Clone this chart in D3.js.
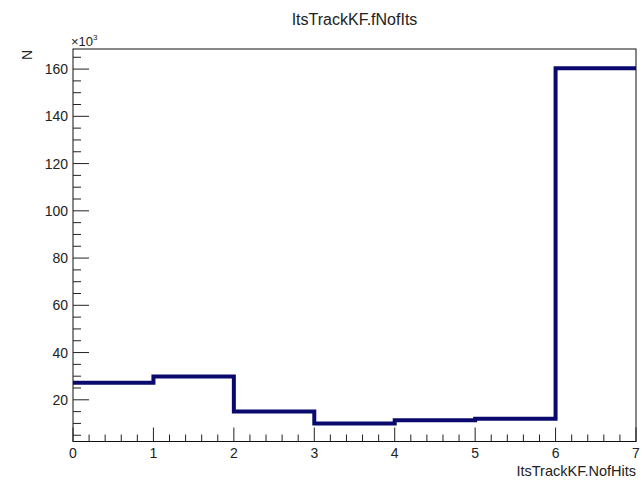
<!DOCTYPE html>
<html><head><meta charset="utf-8">
<script src="https://cdn.jsdelivr.net/npm/d3@7"></script>
<style>body{margin:0;background:#fff}svg{display:block}text{font-family:"Liberation Sans",Arial,sans-serif;fill:#222}</style>
</head><body>
<script>
const binEdges = [0,1,2,3,4,5,6,7];
const counts = [27.2, 29.9, 15.1, 10.0, 11.3, 12.0, 160.3]; // in units of 10^3
const yTicks = [20,40,60,80,100,120,140,160];
const xTicks = [0,1,2,3,4,5,6,7];
const title = "ItsTrackKF.fNofIts";
const xLabel = "ItsTrackKF.NofHits";
const yLabel = "N";

const W=642,H=480;
const fx0=73, fx1=636, fy0=49, fy1=441.5;
const svg=d3.select("body").append("svg").attr("width",W).attr("height",H);
const x=d3.scaleLinear().domain([0,7]).range([fx0,fx1]);
const y=d3.scaleLinear().domain([2.35,168.5]).range([fy1,fy0]);

// frame
svg.append("rect").attr("x",fx0).attr("y",fy0).attr("width",fx1-fx0).attr("height",fy1-fy0)
  .attr("fill","none").attr("stroke","#111").attr("stroke-width",1);

// histogram step line
const pts=[];
counts.forEach((c,i)=>{pts.push([x(binEdges[i]),y(c)]);pts.push([x(binEdges[i+1]),y(c)]);});
svg.append("path").attr("d",d3.line()(pts)).attr("fill","none").attr("stroke","#0a0a6e").attr("stroke-width",4);

// x axis ticks
const g=svg.append("g").attr("stroke","#222").attr("stroke-width",1);
for(let v=0; v<=7.0001; v+=0.2){
  const major=Math.abs(v-Math.round(v))<1e-6;
  const len=major?14:7;
  g.append("line").attr("x1",x(v)).attr("x2",x(v)).attr("y1",fy1).attr("y2",fy1-len);
}
svg.selectAll(".xt").data(xTicks).enter().append("text").attr("x",d=>x(d)).attr("y",fy1+16.5)
  .attr("text-anchor","middle").attr("font-size",14).text(d=>d);

// y axis ticks
for(let v=5; v<=168; v+=5){
  const major=v%20===0;
  const len=major?16:8;
  g.append("line").attr("x1",fx0).attr("x2",fx0+len).attr("y1",y(v)).attr("y2",y(v));
}
svg.selectAll(".yt").data(yTicks).enter().append("text").attr("x",fx0-5).attr("y",d=>y(d)+5)
  .attr("text-anchor","end").attr("font-size",14).text(d=>d);

// x10^3
const ex=svg.append("text").attr("x",fx0-2).attr("y",fy0-3).attr("font-size",13);
ex.append("tspan").text("\u00d710");
ex.append("tspan").attr("dy",-6).attr("font-size",8).text("3");

// title
svg.append("text").attr("x",(fx0+fx1)/2).attr("y",25).attr("text-anchor","middle").attr("font-size",16).text(title);
// x label
svg.append("text").attr("x",fx1).attr("y",476).attr("text-anchor","end").attr("font-size",14.5).text(xLabel);
// y label
svg.append("text").attr("transform",`translate(32,55) rotate(-90)`).attr("text-anchor","middle").attr("font-size",14).text(yLabel);
</script>
</body></html>
